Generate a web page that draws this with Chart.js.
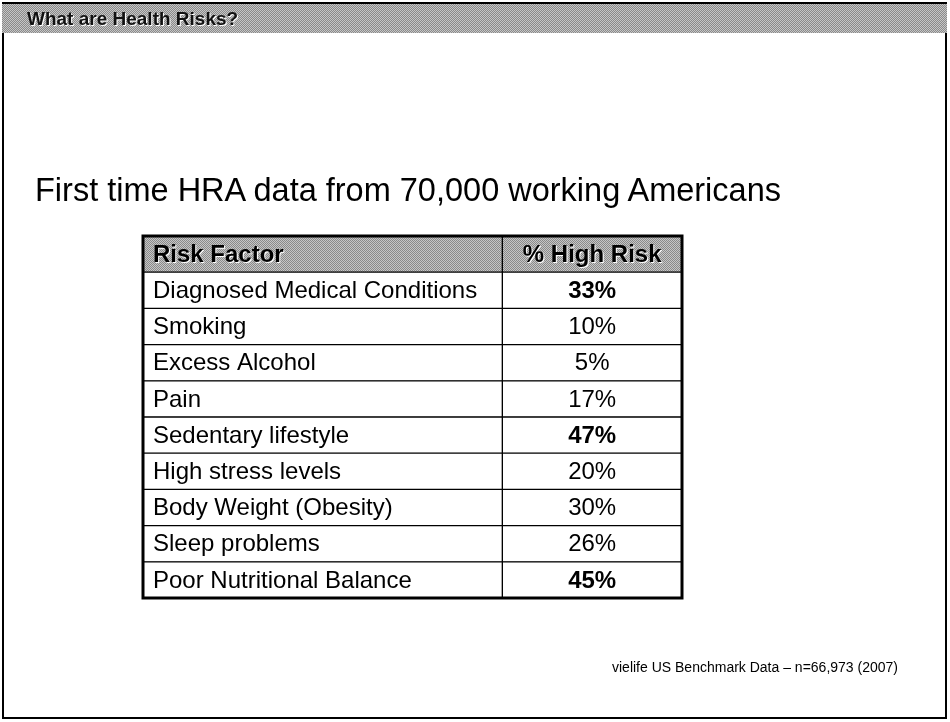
<!DOCTYPE html>
<html>
<head>
<meta charset="utf-8">
<script src="https://cdn.jsdelivr.net/npm/chart.js@4"></script>
<style>
  html, body { margin: 0; padding: 0; background: #fff; }
  body { width: 950px; height: 722px; position: relative; overflow: hidden; font-family: "Liberation Sans", Arial, sans-serif; }
  #frame { position: absolute; left: 2px; top: 2px; width: 945px; height: 717px; border: 2px solid #000; box-sizing: border-box; }
  #topbar {
    position: absolute; left: 2px; top: 2px; width: 945px; height: 31px;
    background: repeating-conic-gradient(#8a8a8a 0 25%, #c6c6c6 0 50%) 0 0 / 2px 2px;
    border-top: 2px solid #000; box-sizing: border-box;
  }
  #topbar span {
    position: absolute; left: 25px; top: 4px; font-size: 19px; font-weight: bold; color: #111;
    text-shadow: 1px 1px 0 #fff;
  }
  #title { position: absolute; left: 35px; top: 174px; font-size: 32.5px; line-height: 32px; color: #000; white-space: nowrap; }
  #note { position: absolute; left: 612px; top: 660px; font-size: 14px; line-height: 14px; color: #000; white-space: nowrap; }
  canvas { position: absolute; left: 0; top: 0; }
</style>
</head>
<body>
<canvas id="grafico" width="950" height="722"></canvas>
<div id="frame"></div>
<div id="topbar"><span>What are Health Risks?</span></div>
<div id="title">First time HRA data from 70,000 working Americans</div>
<div id="note">vielife US Benchmark Data – n=66,973 (2007)</div>

<script>
// dados da tabela
const cabecalhos = ["Risk Factor", "% High Risk"];
const fatores = [
  "Diagnosed Medical Conditions",
  "Smoking",
  "Excess Alcohol",
  "Pain",
  "Sedentary lifestyle",
  "High stress levels",
  "Body Weight (Obesity)",
  "Sleep problems",
  "Poor Nutritional Balance"
];
const altoRisco = [33, 10, 5, 17, 47, 20, 30, 26, 45];
const destaque = [true, false, false, false, true, false, false, false, true];

// linhas = cabeçalho + fatores
const linhas = [cabecalhos[0]].concat(fatores);

// padrão pontilhado do cabeçalho (imitando o cinza da impressão)
function criarPadrao() {
  const c = document.createElement("canvas");
  c.width = 2; c.height = 2;
  const g = c.getContext("2d");
  g.fillStyle = "#c6c6c6"; g.fillRect(0, 0, 2, 2);
  g.fillStyle = "#8a8a8a"; g.fillRect(0, 0, 1, 1); g.fillRect(1, 1, 1, 1);
  return g.createPattern(c, "repeat");
}

document.addEventListener("DOMContentLoaded", function () {
  const ctx = document.getElementById("grafico");
  const padrao = criarPadrao();
  const fundo = c => (c.dataIndex === 0 ? padrao : "#ffffff");
  const fonte = "24px 'Liberation Sans', Arial, sans-serif";

  // escreve o texto de cada célula usando as escalas do gráfico
  const textoCelulas = {
    id: "textoCelulas",
    afterDatasetsDraw(chart) {
      const g = chart.ctx;
      const x = chart.scales.x;
      const y = chart.scales.y;
      g.save();
      g.textBaseline = "middle";
      linhas.forEach((nome, i) => {
        const py = y.getPixelForValue(i) + 1;
        const cab = i === 0;
        g.font = (cab ? "bold " : "") + fonte;
        if (cab) { g.shadowColor = "#fff"; g.shadowOffsetX = 1; g.shadowOffsetY = 1; }
        else { g.shadowColor = "transparent"; }
        g.fillStyle = "#000";
        g.textAlign = "left";
        g.fillText(nome, x.getPixelForValue(0) + 10, py);
        const valor = cab ? cabecalhos[1] : altoRisco[i - 1] + "%";
        if (!cab) g.font = (destaque[i - 1] ? "bold " : "") + fonte;
        g.textAlign = "center";
        g.fillText(valor, x.getPixelForValue(2.5), py);
      });
      // contorno externo mais grosso
      g.shadowColor = "transparent";
      g.lineWidth = 3;
      g.strokeStyle = "#000";
      const l = x.getPixelForValue(0), r = x.getPixelForValue(3);
      g.strokeRect(l, chart.chartArea.top, r - l, chart.chartArea.bottom - chart.chartArea.top);
      g.restore();
    }
  };

  new Chart(ctx, {
    type: "bar",
    data: {
      labels: linhas,
      datasets: [
        {
          label: cabecalhos[0],
          data: linhas.map(() => [0, 2]),
          backgroundColor: fundo
        },
        {
          label: cabecalhos[1],
          data: linhas.map(() => [2, 3]),
          backgroundColor: fundo
        }
      ]
    },
    options: {
      indexAxis: "y",
      responsive: false,
      animation: false,
      events: [],
      layout: { padding: { left: 143, right: 268, top: 236, bottom: 124 } },
      datasets: {
        bar: {
          grouped: false,
          barPercentage: 1,
          categoryPercentage: 1,
          borderColor: "#000",
          borderWidth: 1,
          borderSkipped: false
        }
      },
      plugins: {
        legend: { display: false },
        tooltip: { enabled: false },
        title: { display: false }
      },
      scales: {
        x: { type: "linear", min: 0, max: 3, display: false },
        y: { type: "category", display: false }
      }
    },
    plugins: [textoCelulas]
  });
});
</script>
</body>
</html>
